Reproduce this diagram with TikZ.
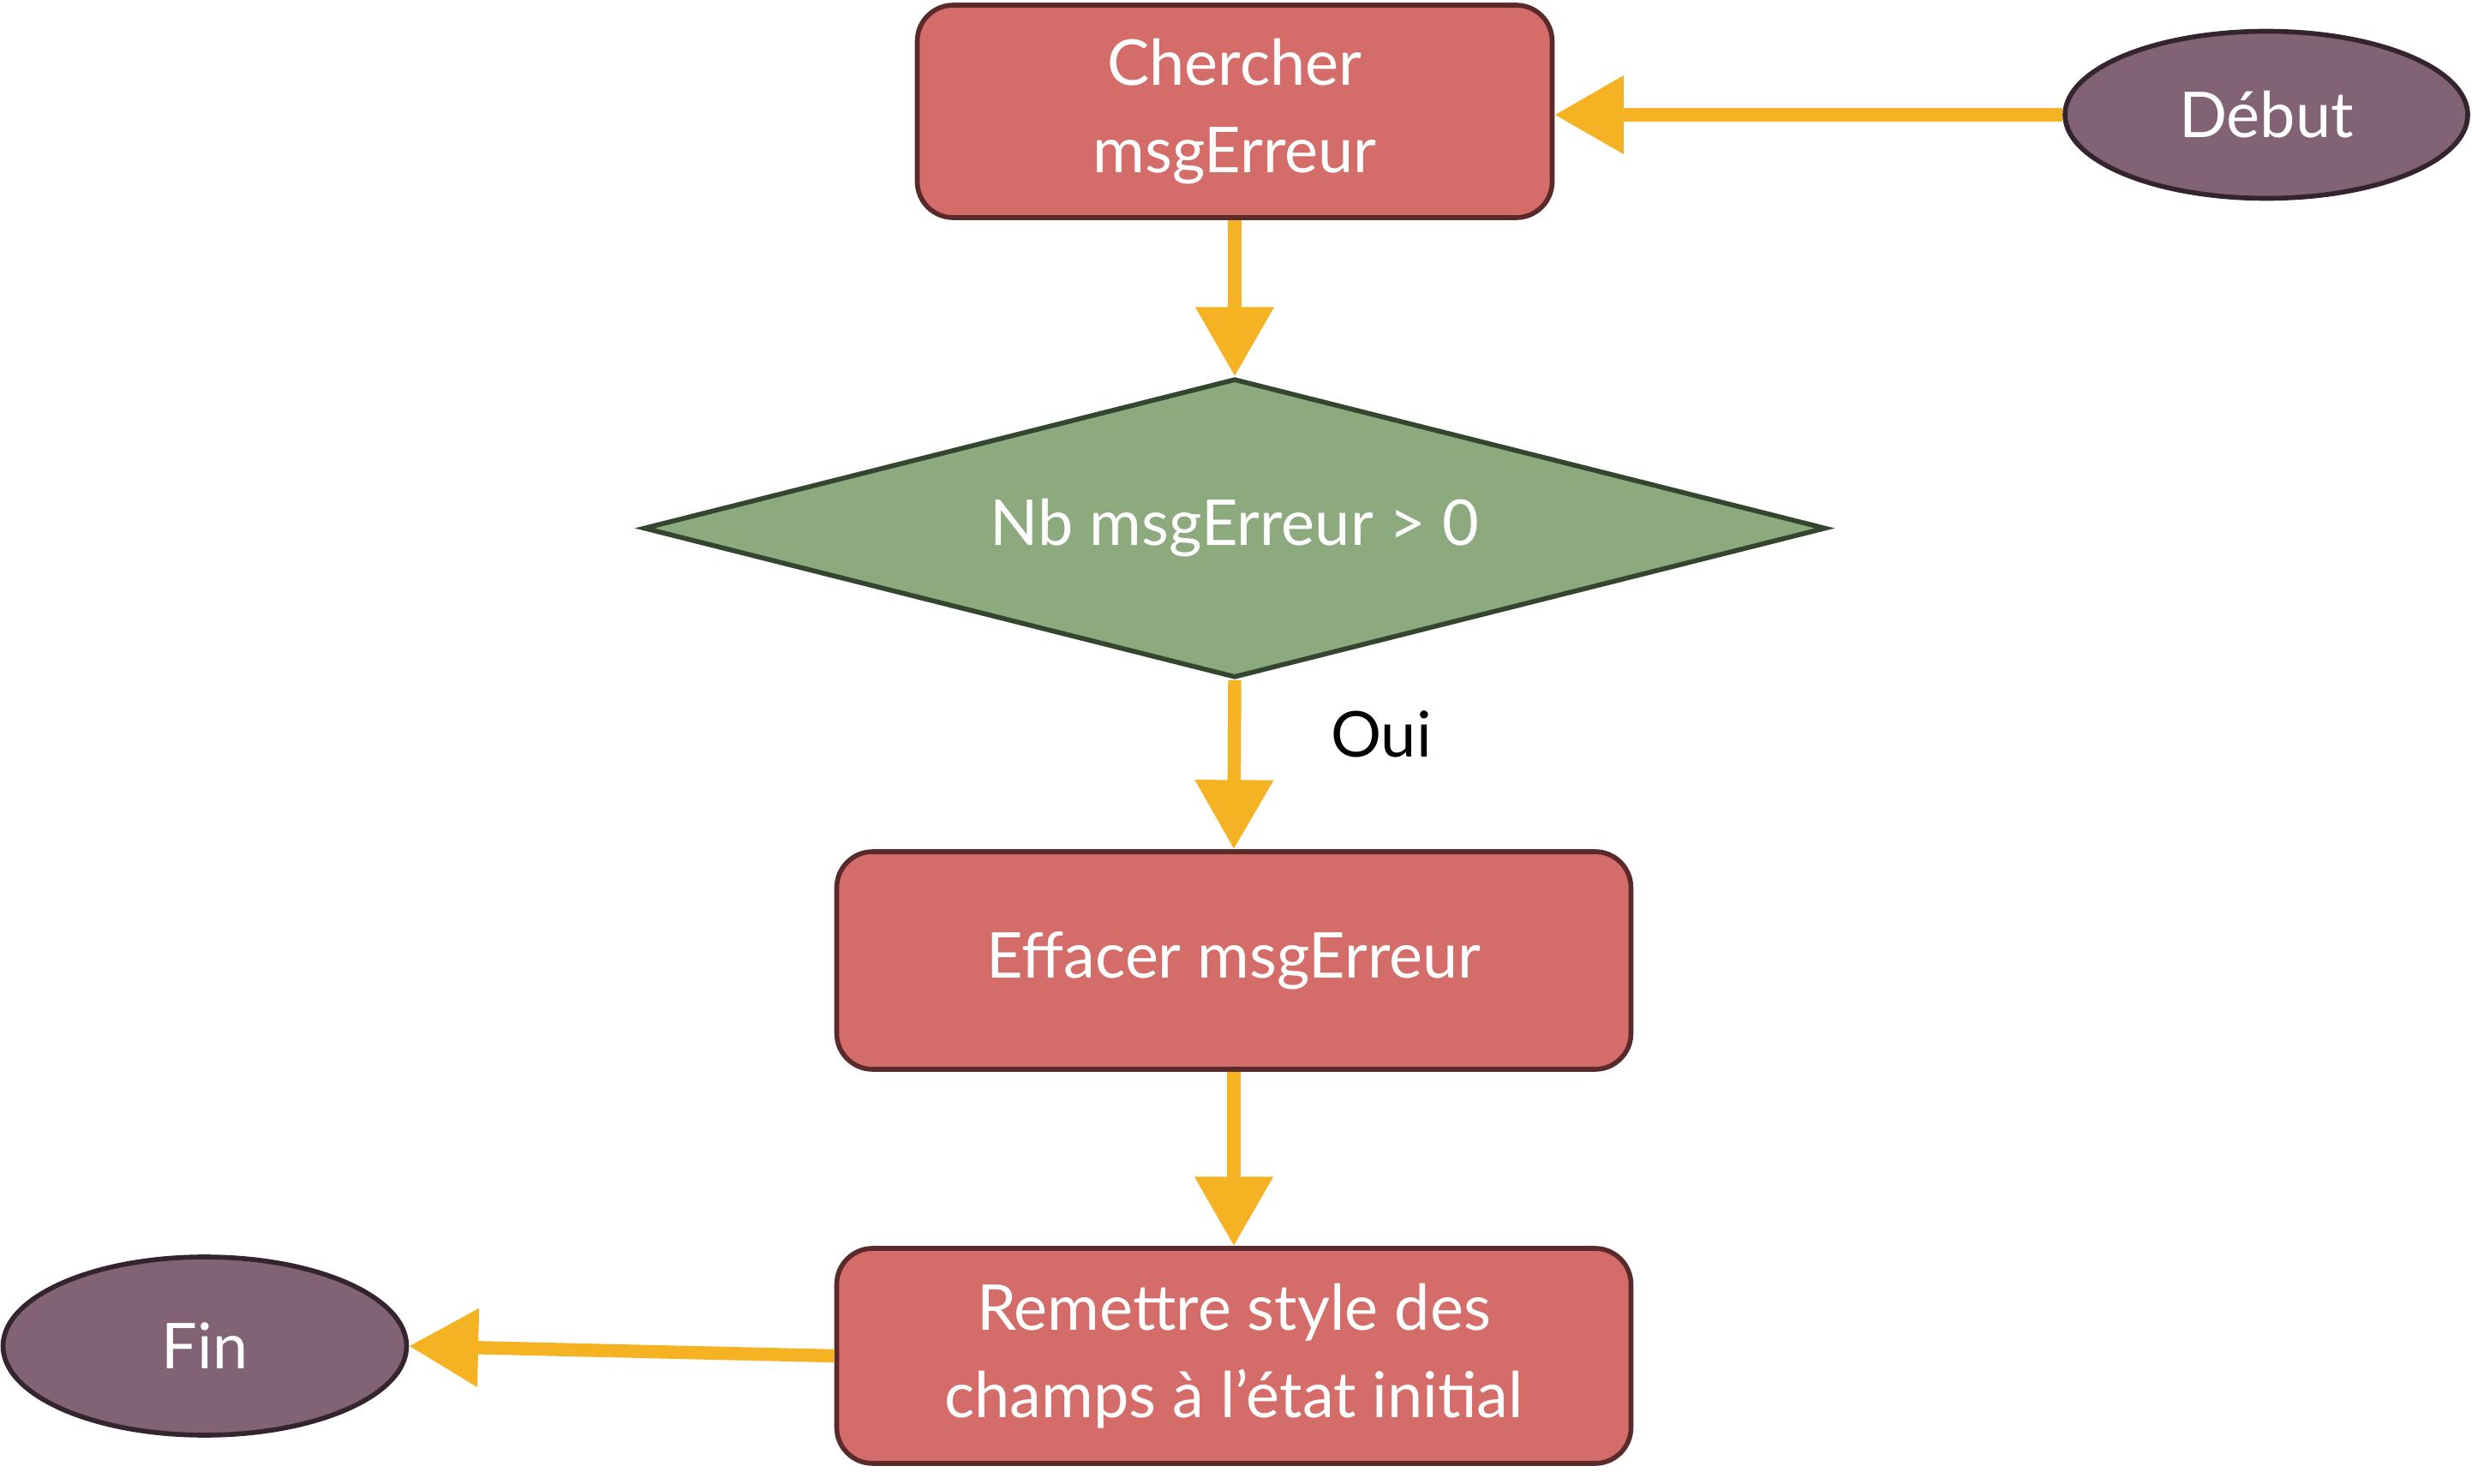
\documentclass[tikz,border=0pt]{standalone}
\usepackage{fontspec}
\setmainfont{Lato}
\usetikzlibrary{shapes.geometric,arrows.meta}
\definecolor{boxfill}{HTML}{D46D69}
\definecolor{boxdraw}{HTML}{5A2A2A}
\definecolor{diafill}{HTML}{8DAA7E}
\definecolor{diadraw}{HTML}{344530}
\definecolor{ellfill}{HTML}{816375}
\definecolor{elldraw}{HTML}{33242E}
\definecolor{arrowcol}{HTML}{F5B324}
\tikzset{
  procbox/.style={rectangle, rounded corners=0.42cm, fill=boxfill, draw=boxdraw, line width=1.6pt,
    text=white, align=center, font=\fontsize{21}{29}\selectfont, inner sep=0pt},
  decision/.style={diamond, shape aspect=3.954, fill=diafill, draw=diadraw, line width=1.6pt, text=white,
    font=\fontsize{21}{29}\selectfont, inner sep=0pt, minimum width=13.8cm, minimum height=3.49cm},
  terminal/.style={ellipse, fill=ellfill, draw=elldraw, line width=1.6pt, text=white,
    font=\fontsize{21}{29}\selectfont, inner sep=0pt},
  flow/.style={draw=arrowcol, line width=4.4pt, -{Triangle[length=23pt,width=25pt]}},
}
\begin{document}
\begin{tikzpicture}
\useasboundingbox (0,0) rectangle (28.85,-17.32);
\node[procbox, minimum width=7.41cm, minimum height=2.48cm] (cherch) at (14.41,-1.30) {Chercher\\msgErreur};
\node[terminal, minimum width=4.70cm, minimum height=1.95cm] (debut) at (26.45,-1.34) {Début};
\node[decision] (dia) at (14.41,-6.165) {Nb msgErreur > 0};
\node[procbox, minimum width=9.27cm, minimum height=2.54cm] (eff) at (14.40,-11.21) {Effacer msgErreur};
\node[procbox, minimum width=9.27cm, minimum height=2.51cm] (rem) at (14.40,-15.825) {Remettre style des\\champs à l’état initial};
\node[terminal, minimum width=4.71cm, minimum height=2.08cm] (fin) at (2.39,-15.71) {Fin};
\node[font=\fontsize{21}{29}\selectfont, text=black] (oui) at (16.12,-8.57) {Oui};
\draw[flow] (debut.west) -- (debut.west -| cherch.east);
\draw[flow] (cherch.south) -- (dia.north);
\draw[flow] (dia.south) -- (eff.north);
\draw[flow] (eff.south) -- (rem.north);
\draw[flow] (rem.west) -- (fin.east);
\end{tikzpicture}
\end{document}
